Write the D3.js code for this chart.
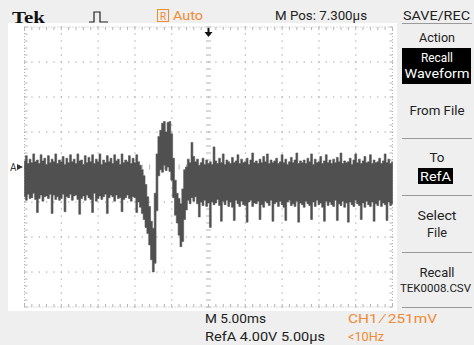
<!DOCTYPE html>
<html><head><meta charset="utf-8">
<script src="https://cdn.jsdelivr.net/npm/d3@7"></script>
<style>html,body{margin:0;padding:0;background:#efefef;overflow:hidden}svg{display:block}</style>
</head><body>
<svg id="c" width="474" height="345"></svg>
<script>
// ---- data (RefA waveform, volts; sampled every 0.25 us, 5 us/div, 4 V/div) ----
const sampleStepUs = 0.25;
const traceHi = [
 0.7,1.3,0.4,0.9,0.5,1.5,0.6,0.8, 0.4,1.4,0.7,1.0,0.3,1.3,0.5,0.9,
 0.6,1.5,0.4,0.8,0.6,1.2,0.3,1.0, 0.5,1.4,0.6,0.9,0.4,1.5,0.7,0.8,
 0.3,1.3,0.5,1.1,0.6,1.4,0.4,0.9, 0.6,1.5,0.3,0.8,0.5,1.3,0.6,1.0,
 0.4,1.4,0.7,0.9,0.3,1.5,0.5,0.8, 0.6,1.3,0.4,1.0,0.5,1.4,0.6,
 0.2,-0.3,-1.0,-2.0,-3.4,-4.5,-6.2,-7.0,-3.0,1.5,
 3.5,4.2,5.0,5.2,4.0,5.1,5.2,3.8,1.0,-1.5,
 -3.0,-3.6,-4.2,-2.5,-0.3,0.0,0.9,0.5,2.8,1.2,
 0.6,0.9,0.2,0.5,1.0,0.3,0.8,0.4,0.6,0.3, 2.3,
 0.7,0.4,1.0,0.5,1.5,0.3,0.8,0.6, 0.4,1.1,0.5,0.7,1.4,0.4,0.9,0.5,
 0.6,1.0,0.3,0.8,1.6,0.5,0.7,0.4, 0.9,0.5,1.2,0.6,1.5,0.4,0.8,0.5,
 0.7,1.0,0.4,0.6,1.4,0.5,0.9,0.3, 0.6,1.1,0.5,0.8,1.6,0.4,0.7,0.5,
 0.8,0.4,1.0,0.6,1.5,0.3,0.9,0.5, 0.6,1.2,0.4,0.7,1.4,0.5,0.8,0.4,
 0.9,0.5,1.1,0.6,1.6,0.4,0.7,0.5, 0.6,1.0,0.3,0.8,1.5,0.5,0.9,0.4,
 0.7,1.2,0.5,0.6,1.4,0.4,0.8,0.5, 0.6,1.0,0.4,0.7,1.5,0.5,0.9,0.4, 0.6
];
const traceLo = [
 -3.4,-3.8,-3.1,-3.6,-3.5,-3.0,-3.7,-5.2, -3.6,-3.2,-3.9,-3.4,-3.3,-3.6,-3.1,-5.3,
 -3.2,-3.7,-3.4,-3.8,-3.6,-3.1,-5.1,-3.4, -3.5,-3.1,-3.8,-3.3,-3.2,-3.7,-5.4,-3.6,
 -3.3,-3.8,-3.2,-3.5,-3.7,-5.2,-3.0,-3.9, -3.6,-3.3,-3.7,-3.4,-3.1,-5.3,-3.5,-3.2,
 -3.4,-3.9,-3.2,-3.6,-3.5,-5.1,-3.7,-3.5, -3.2,-3.6,-3.9,-3.4,-3.5,-5.2,-4.0,
 -4.6,-5.3,-6.0,-6.9,-7.6,-8.9,-10.6,-12.0,-11.0,-5.0,
 -1.0,-0.3,-0.6,0.2,-0.4,0.0,-0.5,-1.5,-3.5,-5.5,
 -6.4,-7.8,-9.1,-8.5,-6.0,-4.9,-3.8,-4.2,-3.5,-3.9,
 -3.4,-4.2,-5.7,-4.0,-4.4,-3.8,-4.5,-4.1,-6.9,-4.0, -4.3,
 -4.1,-3.7,-4.4,-6.2,-3.9,-4.3,-3.8,-4.5, -4.0,-4.6,-6.1,-3.8,-4.2,-4.5,-3.9,-4.3,
 -4.4,-6.3,-4.0,-3.8,-4.5,-4.1,-4.2,-3.9, -6.0,-4.3,-4.6,-3.9,-4.1,-4.4,-3.8,-6.2,
 -4.2,-4.0,-4.5,-3.9,-4.3,-4.6,-6.1,-4.0, -3.8,-4.4,-4.2,-4.5,-3.9,-6.3,-4.1,-4.3,
 -4.6,-3.9,-4.2,-4.4,-6.0,-4.0,-4.5,-3.8, -4.3,-4.1,-4.6,-6.2,-3.9,-4.4,-4.0,-4.3,
 -4.5,-3.8,-6.1,-4.2,-4.4,-3.9,-4.6,-4.1, -6.3,-4.0,-4.3,-4.5,-3.8,-4.2,-4.4,-6.0,
 -4.1,-4.6,-3.9,-4.3,-4.5,-4.0,-6.2,-4.2, -4.4,-3.8,-4.5,-4.1,-4.3,-6.1,-4.0,-4.4, -4.2
];
const timeDomainUs = [0, 50];       // 10 div x 5.00 us
const voltDomain = [16, -16];       // 8 div x 4.00 V
const xMajorTicks = [0,5,10,15,20,25,30,35,40,45,50];
const yMajorTicks = [-16,-12,-8,-4,0,4,8,12,16];
const headerLabels = ["Tek", "Auto", "M Pos: 7.300µs", "SAVE/REC"];
const menuLabels = ["Action", "Recall", "Waveform", "From File", "To", "RefA", "Select", "File", "Recall", "TEK0008.CSV"];
const footerLabels = ["M 5.00ms", "RefA 4.00V 5.00µs", "CH1 \u2215 251mV", "<10Hz"];

// ---- drawing ----
const svg = d3.select("#c");
const W = 474, H = 345;
const ORANGE = "#f08a33", GRID = "#b4b4b4", TRACE = "#505050";
const FONT = "Roboto, 'Liberation Sans', Arial, sans-serif";

svg.append("rect").attr("width", W).attr("height", H).attr("fill", "#efefef");
svg.append("rect").attr("x", 8).attr("y", 23).attr("width", 389).attr("height", 288).attr("fill", "#ffffff");

const x = d3.scaleLinear().domain(timeDomainUs).range([24.5, 392.5]);
const y = d3.scaleLinear().domain(voltDomain).range([27, 307]);

const g = svg.append("g");
const minorX = d3.range(timeDomainUs[0], timeDomainUs[1] + 0.001, 1);
const minorY = d3.range(-16, 16.001, 0.8);

// dotted major lines
xMajorTicks.slice(1, -1).forEach(t => {
  if (t === 25) return;
  minorY.forEach(v => g.append("rect").attr("x", x(t) - 0.6).attr("y", y(v) - 0.6).attr("width", 1.3).attr("height", 1.3).attr("fill", GRID));
});
yMajorTicks.slice(1, -1).forEach(v => {
  if (v === 0) return;
  minorX.forEach(t => g.append("rect").attr("x", x(t) - 0.6).attr("y", y(v) - 0.6).attr("width", 1.3).attr("height", 1.3).attr("fill", GRID));
});
// center cross with minor ticks
minorY.forEach(v => g.append("line").attr("x1", x(25) - 2.5).attr("x2", x(25) + 2.5).attr("y1", y(v)).attr("y2", y(v)).attr("stroke", GRID).attr("stroke-width", 1));
minorX.forEach(t => g.append("line").attr("x1", x(t)).attr("x2", x(t)).attr("y1", y(0) - 2.5).attr("y2", y(0) + 2.5).attr("stroke", GRID).attr("stroke-width", 1));
// border: dotted frame + inward ticks
[[x(0), y(16), x(50), y(16)], [x(0), y(-16), x(50), y(-16)], [x(0), y(16), x(0), y(-16)], [x(50), y(16), x(50), y(-16)]].forEach(l =>
  g.append("line").attr("x1", l[0]).attr("y1", l[1]).attr("x2", l[2]).attr("y2", l[3]).attr("stroke", GRID).attr("stroke-dasharray", "1,2"));
minorX.forEach(t => {
  g.append("line").attr("x1", x(t)).attr("x2", x(t)).attr("y1", y(16)).attr("y2", y(16) + 3).attr("stroke", GRID);
  g.append("line").attr("x1", x(t)).attr("x2", x(t)).attr("y1", y(-16)).attr("y2", y(-16) - 3).attr("stroke", GRID);
});
minorY.forEach(v => {
  g.append("line").attr("x1", x(0)).attr("x2", x(0) + 3).attr("y1", y(v)).attr("y2", y(v)).attr("stroke", GRID);
  g.append("line").attr("x1", x(50)).attr("x2", x(50) - 3).attr("y1", y(v)).attr("y2", y(v)).attr("stroke", GRID);
});

// waveform envelope
const pts = traceHi.map((h, i) => ({ t: i * sampleStepUs, hi: h, lo: traceLo[i] }));
const area = d3.area().curve(d3.curveStep).x(d => x(d.t)).y0(d => y(d.lo)).y1(d => y(d.hi));
svg.append("path").datum(pts).attr("d", area).attr("fill", TRACE).attr("stroke", TRACE).attr("stroke-width", 0.6);

// reference marker "A→" at 0 V
svg.append("text").attr("x", 10).attr("y", y(0) + 4).attr("font-family", FONT).attr("font-size", 10).attr("fill", "#333").text("A");
svg.append("path").attr("d", `M17,${y(0) - 3}L23,${y(0)}L17,${y(0) + 3}Z`).attr("fill", "#333");

// trigger position arrow
svg.append("path").attr("d", `M${x(25)},28V33`).attr("stroke", "#111").attr("stroke-width", 2);
svg.append("path").attr("d", `M${x(25) - 4},32L${x(25) + 4},32L${x(25)},37Z`).attr("fill", "#111");

function txt(xp, yp, s, o = {}) {
  const t = svg.append("text").attr("x", xp).attr("y", yp).text(s)
    .attr("font-family", o.family || FONT).attr("font-size", o.size || 13)
    .attr("font-weight", o.weight || "normal").attr("fill", o.fill || "#222")
    .attr("text-anchor", o.anchor || "start");
  if (o.len) t.attr("textLength", o.len).attr("lengthAdjust", "spacingAndGlyphs");
  return t;
}

// header
txt(12, 23, headerLabels[0], { family: "'Liberation Serif', 'DejaVu Serif', serif", size: 17, weight: "bold", fill: "#111", len: 33 });
svg.append("path").attr("d", "M89,22H94V12H100V22H108").attr("fill", "none").attr("stroke", "#222").attr("stroke-width", 1.2);
svg.append("rect").attr("x", 157.5).attr("y", 9.5).attr("width", 11).attr("height", 12).attr("fill", "none").attr("stroke", ORANGE);
txt(163, 20, "R", { size: 10, fill: ORANGE, anchor: "middle" });
txt(173, 20, headerLabels[1], { size: 13, fill: ORANGE, len: 30 });
txt(275, 20, headerLabels[2], { size: 13, fill: "#222", len: 92 });
txt(403, 20, headerLabels[3], { size: 13, fill: "#222", len: 67 });

// right menu
const cx = 437;
const sep = v => svg.append("line").attr("x1", 402).attr("x2", 472).attr("y1", v).attr("y2", v).attr("stroke", "#9a9a9a").attr("stroke-width", 1);
sep(23.5);
txt(cx, 42, menuLabels[0], { anchor: "middle", len: 36 });
svg.append("rect").attr("x", 402).attr("y", 48).attr("width", 69).attr("height", 36).attr("fill", "#000");
txt(cx, 62, menuLabels[1], { anchor: "middle", fill: "#fff", len: 32 });
txt(cx, 78, menuLabels[2], { anchor: "middle", fill: "#fff", len: 65 });
txt(cx, 115, menuLabels[3], { anchor: "middle", len: 55 });
sep(138.5);
txt(cx, 162, menuLabels[4], { anchor: "middle", len: 15 });
svg.append("rect").attr("x", 418).attr("y", 168).attr("width", 35).attr("height", 16).attr("fill", "#000");
txt(cx - 1.5, 181, menuLabels[5], { anchor: "middle", fill: "#fff", len: 31 });
sep(195.5);
txt(cx, 220, menuLabels[6], { anchor: "middle", len: 39 });
txt(cx, 237, menuLabels[7], { anchor: "middle", len: 20 });
sep(252.5);
txt(cx, 277, menuLabels[8], { anchor: "middle", len: 35 });
txt(400, 292, menuLabels[9], { size: 11.5, len: 71 });
sep(307.5);

// footer
txt(205, 323, footerLabels[0], { len: 61 });
txt(205, 341, footerLabels[1], { len: 120 });
txt(348, 323, footerLabels[2], { fill: ORANGE, len: 89 });
txt(348, 341, footerLabels[3], { fill: ORANGE, len: 36 });
</script>
</body></html>
